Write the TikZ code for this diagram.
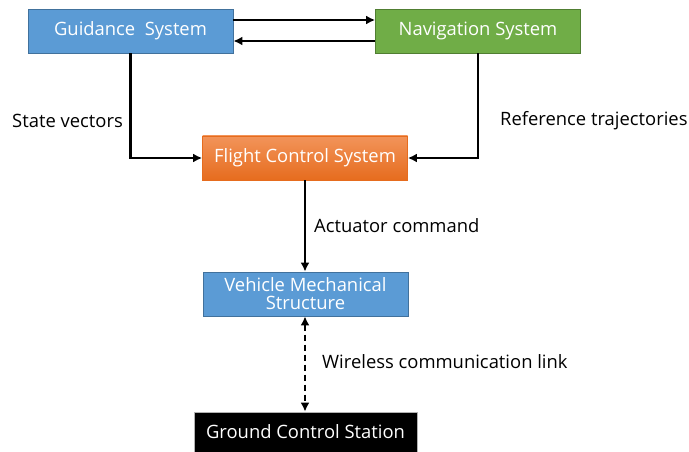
\documentclass[tikz,border=0pt]{standalone}
\usepackage{fontspec}
\setmainfont{Open Sans}
\usetikzlibrary{arrows.meta}

\definecolor{boxblue}{RGB}{91,155,213}
\definecolor{boxblueline}{RGB}{65,113,156}
\definecolor{boxgreen}{RGB}{112,173,71}
\definecolor{boxgreenline}{RGB}{80,126,50}
\definecolor{orangetop}{RGB}{242,148,90}
\definecolor{orangebot}{RGB}{230,108,30}

\begin{document}
\begin{tikzpicture}[x=1pt, y=-1pt,
  block/.style={draw, line width=0.8pt, text=white, minimum width=205pt, minimum height=44pt,
    inner sep=2pt, align=center, font=\fontsize{18.4}{20}\selectfont},
  lbl/.style={font=\fontsize{18.4}{20}\selectfont, inner sep=0pt},
  conn/.style={line width=2.6pt, -{Latex[length=9pt,width=9pt]}}]
\useasboundingbox (0,0) rectangle (689,452);

% Boxes
\node[block, fill=boxblue, draw=boxblueline] (guid) at (130.5,31) {Guidance~ System};
\node[block, fill=boxgreen, draw=boxgreenline] (nav) at (478,31) {Navigation System};
\node[block, top color=orangetop, bottom color=orangebot, draw=orangebot] (fcs) at (305,158) {Flight Control System};
\node[block, fill=boxblue, draw=boxblueline] (veh) at (305.5,294) {Vehicle Mechanical\\[-2pt]Structure};
\node[block, fill=black, draw=gray!60, minimum width=223pt, minimum height=40pt] (gcs) at (305.5,432) {Ground Control Station};

% Guidance <-> Navigation
\draw[conn] ([yshift=11pt]guid.east) -- ([yshift=11pt]nav.west);
\draw[conn] ([yshift=-10pt]nav.west) -- ([yshift=-10pt]guid.east);

% to flight control
\draw[conn] (guid.south) |- (fcs.west);
\draw[conn] (nav.south) |- (fcs.east);
\node[lbl, anchor=west] (sv) at (12,121) {State vectors};
\node[lbl, anchor=west] (rt) at (500,121) {Reference trajectories};

% Actuator command
\draw[conn] (fcs.south) -- (veh.north -| fcs.south);
\node[lbl, anchor=west] (ac) at (314,226) {Actuator command};

% Wireless link
\draw[line width=2.6pt, dash pattern=on 6pt off 4pt, {Latex[length=9pt,width=9pt]}-{Latex[length=9pt,width=9pt]}] (veh.south -| fcs.south) -- (gcs.north -| fcs.south);
\node[lbl, anchor=west] (wl) at (322,362) {Wireless communication link};

\end{tikzpicture}
\end{document}
